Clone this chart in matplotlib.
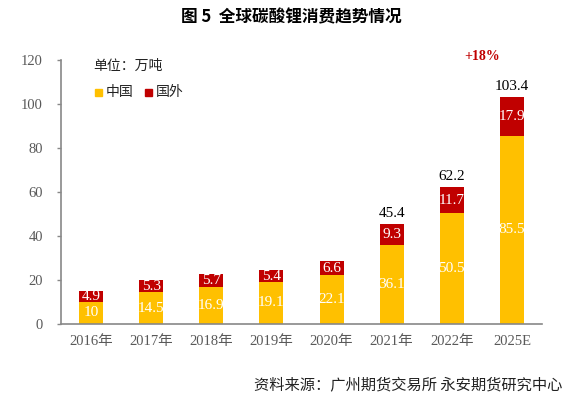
import matplotlib
matplotlib.use("Agg")
import matplotlib.pyplot as plt

categories = ["2016年", "2017年", "2018年", "2019年", "2020年", "2021年", "2022年", "2025E"]
china = [10, 14.5, 16.9, 19.1, 22.1, 36.1, 50.5, 85.5]
abroad = [4.9, 5.3, 5.7, 5.4, 6.6, 9.3, 11.7, 17.9]
china_labels = ["10", "14.5", "16.9", "19.1", "22.1", "36.1", "50.5", "85.5"]
abroad_labels = ["4.9", "5.3", "5.7", "5.4", "6.6", "9.3", "11.7", "17.9"]
totals = {5: "45.4", 6: "62.2", 7: "103.4"}
yticks = [0, 20, 40, 60, 80, 100, 120]

SERIF = ["Liberation Serif", "Noto Sans CJK SC"]
CJK = ["Noto Sans CJK SC", "DejaVu Sans"]
YEL = "#FFC000"
RED = "#C00000"
GRAY = "#595959"

fig = plt.figure(figsize=(5.85, 3.99), dpi=100)
W, H = 585, 399
ax = fig.add_axes([61 / W, 1 - 324 / H, (542 - 61) / W, (324 - 60) / H])

x = list(range(len(categories)))
ax.bar(x, china, width=0.4, color=YEL, zorder=2)
ax.bar(x, abroad, width=0.4, bottom=china, color=RED, zorder=2)

for i in x:
    ax.text(i, china[i] / 2, china_labels[i], ha="center", va="center",
            color="white", fontsize=11, family=SERIF, zorder=3)
    ax.text(i, china[i] + abroad[i] / 2, abroad_labels[i], ha="center", va="center",
            color="white", fontsize=11, family=SERIF, zorder=3)
for i, t in totals.items():
    ax.text(i, china[i] + abroad[i] + 1.8, t, ha="center", va="bottom",
            color="black", fontsize=11, family=SERIF)

ax.set_xlim(-0.5, 7.5)
ax.set_ylim(0, 120)
ax.set_yticks(yticks)
ax.set_xticks(x)
ax.set_xticklabels(categories)
for lab in ax.get_xticklabels() + ax.get_yticklabels():
    lab.set_family(SERIF)
    lab.set_fontsize(10.5)
    lab.set_color(GRAY)
ax.tick_params(axis="x", length=0, pad=8)
ax.tick_params(axis="y", length=3, width=1, color="#888888", pad=10)
for s in ["top", "right"]:
    ax.spines[s].set_visible(False)
for s in ["left", "bottom"]:
    ax.spines[s].set_color("#888888")
    ax.spines[s].set_linewidth(1.2)

fig.text(291 / W, 1 - 17 / H, "图 5  全球碳酸锂消费趋势情况", ha="center", va="center",
         fontsize=12, fontweight="bold", family=CJK)
fig.text(93 / W, 1 - 66 / H, "单位：万吨", ha="left", va="center",
         fontsize=10, family=CJK, color="#222222")
fig.patches.append(plt.Rectangle((95 / W, 1 - 96 / H), 7 / W, 7 / H,
                                 transform=fig.transFigure, color=YEL, figure=fig))
fig.text(106 / W, 1 - 92 / H, "中国", ha="left", va="center",
         fontsize=10, family=CJK, color="#222222")
fig.patches.append(plt.Rectangle((145 / W, 1 - 96 / H), 7 / W, 7 / H,
                                 transform=fig.transFigure, color=RED, figure=fig))
fig.text(156 / W, 1 - 92 / H, "国外", ha="left", va="center",
         fontsize=10, family=CJK, color="#222222")
fig.text(482 / W, 1 - 56 / H, "+18%", ha="center", va="center",
         fontsize=10, fontweight="bold", family=SERIF, color=RED)
fig.text(562 / W, 1 - 386 / H, "资料来源：广州期货交易所 永安期货研究中心", ha="right", va="center",
         fontsize=11, family=CJK, color="#222222")

fig.savefig("out.png", dpi=100)
